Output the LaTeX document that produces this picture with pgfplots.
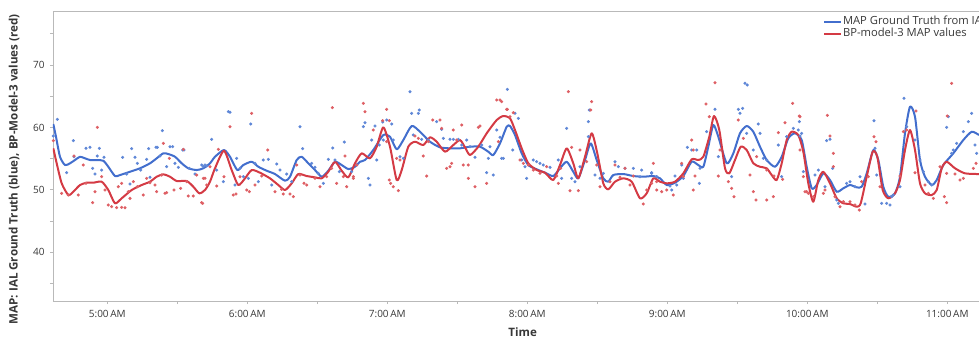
\documentclass[border=0pt]{standalone}
\usepackage{pgfplots}
\pgfplotsset{compat=1.18}
\usepackage{fontspec}
\setmainfont{Open Sans}
\definecolor{bl}{RGB}{66,110,205}
\definecolor{rd}{RGB}{212,58,68}
\definecolor{bld}{RGB}{95,135,215}
\definecolor{rdd}{RGB}{222,95,100}
\definecolor{ax}{RGB}{185,185,185}
\definecolor{tx}{RGB}{55,55,55}
\begin{document}
\begin{tikzpicture}
\useasboundingbox (-53pt,-37pt) rectangle (926pt,301pt);
\begin{axis}[
  at={(0pt,0pt)}, anchor=south west,
  scale only axis, width=946pt, height=289.3pt,
  xmin=276.73, xmax=682.16, ymin=32.18, ymax=78.55,
  axis line style={ax, line width=0.8pt},
  separate axis lines,
  axis x line*=bottom, axis y line*=left,
  xtick={300,360,420,480,540,600,660},
  xticklabels={5:00\,AM,6:00\,AM,7:00\,AM,8:00\,AM,9:00\,AM,10:00\,AM,11:00\,AM},
  minor xtick={330,390,450,510,570,630},
  ytick={40,50,60,70}, minor ytick={35,45,55,65,75},
  tick align=outside, major tick length=3pt, minor tick length=3pt,
  tick style={ax, line width=0.8pt},
  ticklabel style={font=\fontsize{10}{12}\selectfont, text=tx},
  /pgf/number format/assume math mode=true,
  xticklabel style={yshift=-3pt},
  yticklabel style={xshift=-2pt},
  xlabel={\textbf{Time}},
  ylabel={\textbf{MAP: IAL Ground Truth (blue), BP-Model-3 values (red)}},
  label style={font=\fontsize{11.6}{13}\selectfont, text=tx},
  xlabel style={at={(axis description cs:0.4965,-0.107)}, anchor=center},
  ylabel style={at={(axis description cs:-0.0412,0.455)}, anchor=center},
  legend style={at={(axis description cs:0.8145,0.987)}, anchor=north west,
    draw=none, fill=none, inner sep=0pt, outer sep=0pt, row sep=0pt,
    font=\fontsize{11.2}{13}\selectfont, text=tx,
    nodes={text height=8.3pt, text depth=2.5pt, inner sep=0.8pt}},
  legend cell align=left,
  legend image code/.code={\draw[#1, line width=1.7pt] (0pt,0pt) -- (17pt,0pt);},
]
\addplot[only marks, mark=*, mark size=1.35pt, bld, mark options={draw=none, fill=bld}, forget plot] table {
278.58 61.30
276.87 58.63
285.44 57.88
285.73 55.31
282.58 52.75
290.87 56.65
292.58 56.81
296.58 56.65
298.58 55.21
293.73 53.44
294.73 52.53
297.58 53.17
295.73 55.42
306.58 55.21
310.44 56.60
311.87 55.21
312.87 54.24
308.30 52.53
309.73 50.93
314.30 53.17
316.87 54.89
317.73 56.60
320.87 56.81
321.44 56.81
323.58 59.48
322.58 55.42
325.44 53.71
326.87 56.92
328.01 56.92
329.01 54.24
332.30 56.38
332.87 56.38
330.44 53.60
337.58 52.53
341.15 53.71
342.58 53.82
335.15 53.44
318.30 52.00
340.44 53.98
351.87 62.53
352.59 62.42
361.44 60.55
344.73 58.09
341.87 53.98
346.87 53.17
355.44 55.05
354.73 50.77
358.30 52.11
360.44 51.84
366.87 54.78
369.01 54.89
364.73 51.31
372.59 54.14
374.01 53.17
379.01 51.31
382.59 60.12
383.73 56.60
387.59 54.24
389.01 53.60
390.44 52.64
394.73 54.89
396.59 56.70
397.59 54.78
399.44 52.91
401.59 57.66
404.73 52.91
406.87 53.98
349.73 51.31
356.87 53.44
363.30 54.24
370.44 50.77
376.87 52.53
392.59 51.04
429.73 65.73
430.44 62.26
433.73 62.79
433.30 62.26
410.44 60.76
409.73 60.12
414.73 60.23
418.01 60.87
419.73 61.19
421.87 60.55
418.30 57.98
416.58 57.18
413.30 57.98
415.44 54.78
411.87 51.84
412.58 50.77
422.58 57.98
425.44 55.31
426.87 55.05
431.16 58.79
434.73 58.09
437.58 57.98
441.16 60.92
443.30 59.69
444.01 58.25
446.87 58.09
448.30 58.09
450.44 58.09
451.87 57.18
454.01 57.98
455.44 56.92
457.58 55.21
460.44 57.18
463.30 55.05
462.58 52.75
465.44 52.37
466.87 59.59
469.01 55.05
471.44 66.10
464.01 56.92
474.73 62.26
476.16 61.46
468.30 58.41
469.73 55.05
473.73 56.38
477.59 54.78
479.01 53.71
479.73 51.84
482.59 54.78
484.01 54.51
485.44 54.24
486.87 53.98
489.73 53.60
493.30 54.78
496.87 59.85
494.73 51.84
499.01 51.84
500.44 51.31
506.16 60.92
506.59 62.79
506.16 58.52
502.59 53.71
509.01 52.37
511.16 51.84
512.59 52.64
517.59 54.51
519.01 53.71
521.87 53.44
525.44 53.44
529.01 53.17
533.30 52.64
535.44 52.11
528.30 52.11
533.30 52.75
541.16 50.61
541.87 49.97
543.30 52.21
546.16 53.98
548.59 56.81
550.44 56.38
552.59 56.38
554.01 53.44
553.73 51.04
556.87 59.32
560.44 62.90
561.87 55.31
567.59 52.11
570.44 62.90
572.30 63.06
571.16 62.26
573.30 67.07
574.30 66.80
574.01 59.05
576.87 56.38
579.01 60.55
579.73 59.05
581.16 55.05
582.59 54.78
587.59 57.18
589.01 52.11
591.16 58.52
594.01 59.85
596.16 59.59
596.59 60.92
596.87 58.62
598.30 52.91
535.44 52.11
544.01 50.77
546.87 51.84
597.59 59.05
603.30 52.37
604.73 53.17
607.59 50.50
608.30 57.88
609.73 58.09
610.87 53.44
612.59 48.37
613.30 47.83
616.87 51.04
618.30 51.31
620.44 50.50
622.59 52.11
624.73 47.73
628.59 61.08
629.01 56.65
629.73 52.37
631.87 47.83
634.01 47.83
635.44 47.57
636.87 49.17
639.73 50.50
641.44 64.66
642.59 60.12
646.16 57.98
648.30 54.78
649.73 52.91
651.87 51.31
653.30 50.77
659.73 60.01
660.44 61.72
661.87 55.85
662.59 56.38
666.87 59.32
669.01 60.92
670.44 62.26
671.87 57.18
672.59 55.85
664.01 57.45
636.16 48.90
};
\addplot[only marks, mark=*, mark size=1.35pt, rdd, mark options={draw=none, fill=rdd}, forget plot] table {
276.87 57.88
280.44 49.44
283.30 49.17
287.58 49.17
285.73 55.42
289.73 53.98
295.73 60.01
290.87 51.04
293.73 47.94
294.73 49.70
299.01 49.97
297.58 52.11
300.44 47.57
301.87 47.30
304.01 47.14
306.15 47.19
307.58 47.14
304.73 50.50
306.15 51.04
309.01 49.70
309.73 48.63
312.87 50.50
311.15 51.31
316.87 51.84
318.30 51.14
320.44 50.77
324.01 57.45
323.30 52.37
324.73 49.44
325.44 49.54
326.58 55.05
328.58 49.97
331.44 50.24
332.58 56.49
334.01 51.31
334.73 49.01
336.87 49.01
340.44 47.94
341.87 51.84
338.30 52.37
315.44 49.17
321.15 49.70
352.59 60.12
361.87 62.26
347.59 56.49
344.01 53.71
341.16 51.84
342.59 50.77
340.87 47.83
346.87 50.61
354.01 49.17
355.16 49.33
359.73 49.97
360.87 49.70
363.30 50.77
368.73 56.38
366.16 52.21
356.87 52.11
374.73 50.08
375.44 49.33
378.30 49.33
379.73 48.90
381.16 53.98
382.59 52.37
384.30 51.04
385.44 50.77
389.01 51.84
391.16 50.50
396.44 63.17
396.16 53.44
401.16 52.11
401.87 55.42
402.59 50.50
405.44 51.84
398.30 51.04
350.01 52.11
371.87 49.70
394.01 52.11
409.73 63.86
410.44 62.53
419.73 62.90
418.01 61.08
420.87 61.08
414.01 59.59
424.01 55.05
425.44 54.78
420.87 51.57
421.44 51.04
422.58 50.50
424.73 49.86
419.73 57.72
431.87 58.62
433.30 58.25
437.58 57.72
442.58 61.19
443.30 59.85
439.44 61.19
445.44 53.44
446.87 53.71
447.58 54.24
452.58 53.98
454.73 53.98
454.73 51.84
457.58 50.50
459.01 60.01
459.73 60.23
451.87 60.39
448.30 59.59
449.73 57.98
466.87 64.40
469.01 64.13
471.15 62.90
462.58 51.04
467.58 57.72
435.44 55.42
436.87 52.21
406.87 53.98
405.44 52.11
468.30 64.40
471.44 62.90
474.01 62.36
497.59 65.73
507.59 64.13
507.16 62.79
499.01 56.81
502.59 56.38
494.30 53.44
493.30 51.04
498.30 49.86
501.87 49.86
488.30 53.71
492.59 52.21
482.59 53.17
476.87 54.78
480.44 53.98
485.44 52.64
505.44 54.51
509.73 53.98
511.16 50.50
515.44 51.31
517.59 53.98
521.87 53.44
519.73 52.00
525.44 52.21
529.73 47.73
534.01 54.24
535.44 51.31
531.16 49.97
524.01 50.77
472.59 61.72
478.30 54.24
560.44 67.17
556.59 63.75
558.01 61.72
550.44 57.98
551.16 56.38
551.87 52.21
546.87 52.11
546.16 54.24
535.44 49.97
537.59 49.70
539.73 49.97
542.59 49.17
562.59 56.38
561.87 52.21
566.16 51.31
567.59 50.24
568.59 48.90
570.44 61.19
572.59 58.25
575.44 52.37
576.87 49.70
578.01 48.37
582.59 48.37
585.44 48.90
587.59 59.16
589.44 51.68
590.44 60.76
593.73 63.86
596.59 61.83
596.87 56.38
599.73 49.70
578.30 55.31
582.59 53.17
585.73 52.21
551.16 49.97
533.30 51.04
596.87 61.72
598.30 52.11
599.01 49.70
600.44 49.44
602.59 48.90
606.87 49.44
607.59 49.97
608.59 61.94
609.73 58.62
611.16 55.85
611.16 53.71
611.87 48.90
614.01 47.30
615.44 48.10
618.30 48.10
620.44 47.57
622.30 46.76
623.30 51.31
626.16 52.11
628.59 58.52
629.44 57.72
631.16 50.50
639.73 52.21
641.16 59.32
642.59 59.59
646.59 62.63
646.16 52.75
650.44 50.77
651.87 49.44
654.01 48.63
656.87 53.71
658.73 48.90
659.73 47.94
660.01 61.83
661.87 67.07
665.44 51.57
666.87 51.84
671.16 53.44
672.30 54.24
659.73 52.64
663.30 52.53
};
\addplot[bl, line width=2pt, smooth, tension=0.4, line join=round] table {
276.86 60.55
278.01 58.51
279.73 55.30
281.87 53.97
284.01 54.25
286.16 54.78
288.30 55.30
290.44 55.05
292.59 54.78
295.46 54.78
298.29 54.66
300.43 53.70
303.30 52.21
305.44 52.37
309.73 52.90
314.01 53.45
318.30 54.25
321.17 55.05
324.00 55.85
326.14 55.74
329.01 55.30
331.89 54.25
334.71 53.45
338.31 53.17
341.14 53.45
344.01 54.25
346.16 55.30
350.01 56.38
352.59 55.30
355.71 53.17
358.29 53.97
361.89 54.50
364.71 53.70
368.31 53.06
371.87 52.53
376.16 51.46
378.30 52.10
381.17 54.78
383.31 55.30
386.14 54.25
389.01 53.17
391.89 52.10
394.71 53.06
397.59 54.50
400.46 53.97
403.29 53.33
406.16 53.70
408.30 54.50
410.44 54.78
414.00 56.38
418.29 58.78
421.16 58.51
424.03 56.49
426.86 57.98
430.46 60.23
434.01 59.31
438.30 57.71
442.59 56.81
446.87 56.65
451.16 56.65
455.44 56.91
459.73 56.91
463.29 56.11
465.43 55.58
468.30 57.45
471.17 60.11
472.59 60.23
474.73 58.78
477.60 55.85
480.43 53.97
484.03 53.29
487.59 52.74
491.14 52.21
494.01 53.45
496.89 54.50
499.71 52.90
501.86 51.84
504.73 54.78
507.17 57.45
509.74 54.78
512.57 51.84
514.71 51.30
516.86 52.37
521.14 52.53
525.43 52.21
529.71 52.10
534.00 52.21
536.87 51.84
539.74 50.77
543.30 51.14
546.86 52.21
550.46 54.50
553.29 53.97
555.43 53.70
557.57 56.91
559.71 60.39
561.86 58.51
565.46 54.25
568.29 55.85
571.16 59.06
574.03 60.23
576.86 59.31
579.73 56.91
582.60 54.78
586.16 53.70
589.03 55.30
591.86 58.25
594.73 59.06
597.60 57.98
599.74 53.70
601.89 50.24
604.03 50.77
606.86 52.64
609.73 51.57
612.60 49.69
615.43 50.24
618.30 50.77
621.17 50.40
623.31 50.50
625.46 52.64
628.29 56.38
630.43 54.78
632.57 50.50
634.71 48.89
637.59 49.44
639.73 52.10
641.87 59.06
644.01 63.32
646.16 61.72
648.30 54.78
650.44 52.10
653.31 50.77
655.46 51.57
658.29 53.97
662.57 55.85
666.86 57.98
670.46 59.31
673.59 58.78
};
\addlegendentry{MAP Ground Truth from IAL}
\addplot[rd, line width=2pt, smooth, tension=0.4, line join=round] table {
276.86 56.65
278.31 54.25
280.46 51.04
283.29 49.17
285.43 49.69
288.30 50.77
291.17 51.14
294.00 51.14
297.60 51.30
300.43 49.97
303.30 47.84
306.17 48.64
310.46 49.97
314.74 50.77
318.30 51.30
321.17 52.10
324.00 52.48
326.87 52.10
329.74 51.41
334.03 51.41
336.86 50.50
339.43 49.44
341.87 49.97
344.01 51.30
346.16 53.45
350.01 56.27
353.31 53.17
356.14 50.77
359.01 51.84
361.89 53.17
365.44 52.74
369.73 51.84
373.29 50.77
376.16 49.97
379.03 51.04
381.86 52.53
385.46 52.21
389.01 52.00
391.89 51.84
394.71 52.90
397.59 54.50
400.46 53.06
403.29 52.00
406.16 54.25
409.03 55.85
412.59 55.05
415.46 56.91
418.29 60.02
421.16 56.91
424.03 51.57
426.17 53.17
429.00 56.91
431.87 57.71
435.43 57.18
438.30 58.41
441.17 57.71
444.73 56.11
448.29 57.18
451.16 57.98
453.30 56.81
455.44 55.58
459.00 56.91
462.60 59.06
466.89 61.19
469.71 61.83
472.59 61.46
474.73 59.58
477.60 56.65
480.43 54.25
484.03 53.17
487.59 52.74
491.14 51.57
494.01 53.97
496.89 56.65
499.71 54.25
501.86 51.84
504.73 55.30
507.60 59.06
510.00 55.85
512.57 51.04
514.71 50.08
517.59 51.30
521.14 51.84
524.74 51.30
528.30 48.64
531.17 49.44
534.00 51.84
536.87 51.30
539.74 51.04
543.30 51.30
546.86 52.64
550.46 54.89
553.29 54.78
555.43 55.30
558.00 58.51
560.01 61.83
562.29 59.58
564.73 53.45
566.57 52.64
569.01 54.78
571.46 56.91
574.03 56.38
576.86 54.25
579.73 53.70
582.60 53.45
584.74 52.37
586.89 51.57
589.03 54.25
591.17 57.98
593.31 59.31
596.14 58.78
598.29 56.11
600.43 51.04
602.57 48.09
604.71 51.57
606.86 52.90
609.73 51.04
612.60 48.64
615.43 47.84
618.30 47.72
621.17 47.29
622.89 47.84
625.46 52.10
628.03 56.11
630.00 55.30
632.31 49.97
634.71 48.64
637.59 49.44
639.73 51.57
641.87 56.38
644.01 59.58
646.16 56.38
648.30 51.04
650.44 49.44
653.31 49.17
655.46 49.97
657.60 53.45
659.74 54.50
663.30 53.45
667.59 52.64
673.59 52.53
};
\addlegendentry{BP-model-3 MAP values}
\draw[ax, line width=0.8pt] (rel axis cs:0,1) -- (rel axis cs:1,1);
\end{axis}
\end{tikzpicture}
\end{document}
